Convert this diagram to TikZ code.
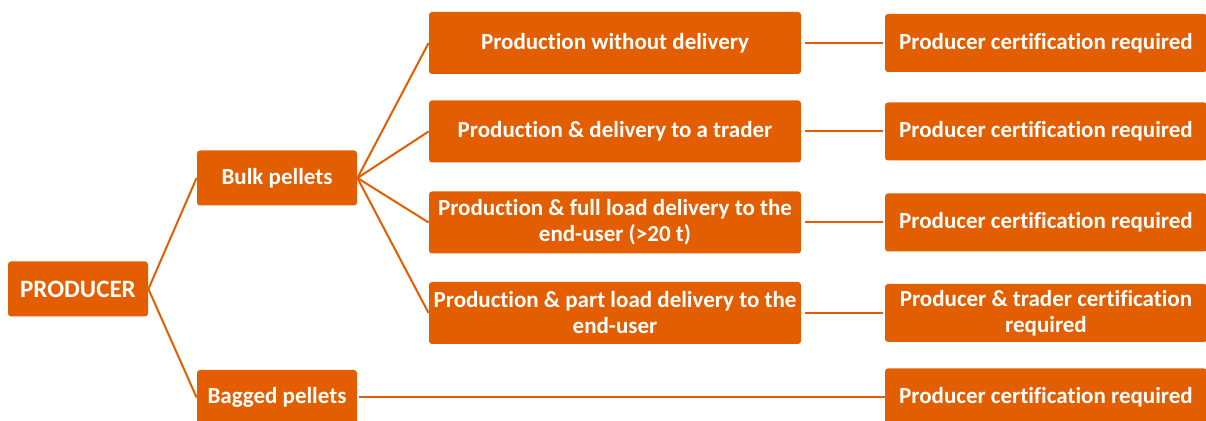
\documentclass[tikz,border=0pt]{standalone}
\usepackage{fontspec}
\setmainfont{Carlito}[Ligatures=NoCommon]
\usetikzlibrary{positioning}
\definecolor{pelletorange}{RGB}{226,94,0}
\tikzset{
  box/.style={fill=pelletorange, rounded corners=1.5pt, text=white, align=center,
    inner sep=0pt, font=\bfseries\fontsize{11.5}{13}\selectfont},
  root/.style={box, minimum width=70pt, minimum height=27.5pt,
    font=\bfseries\fontsize{12.5}{14}\selectfont},
  kind/.style={box, minimum width=80pt, minimum height=27.5pt},
  route/.style={box, minimum width=186pt, minimum height=31pt},
  cert/.style={box, minimum width=161pt, minimum height=29pt},
  link/.style={draw=pelletorange, line width=1pt}
}

\begin{document}
\begin{tikzpicture}[x=0.5pt, y=-0.5pt]
    \useasboundingbox (0,0) rectangle (1206,421);
    \node[root] (producer) at (78,289) {PRODUCER};
    \node[kind] (bulk) at (277,178) {Bulk pellets};
    \node[kind] (bagged) at (277,397.5) {Bagged pellets};
    \node[route] (route1) at (615,43) {Production without delivery};
    \node[route] (route2) at (615,131.5) {Production \& delivery to a trader};
    \node[route] (route3) at (615,222.5) {Production \& full load delivery to the\\end-user (>20 t)};
    \node[route] (route4) at (615,313) {Production \& part load delivery to the\\end-user};
    \node[cert] (cert1) at (1046,43) {Producer certification required};
    \node[cert] (cert2) at (1046,131.5) {Producer certification required};
    \node[cert] (cert3) at (1046,222.5) {Producer certification required};
    \node[cert] (cert4) at (1046,313) {Producer \& trader certification\\required};
    \node[cert] (cert5) at (1046,397.5) {Producer certification required};
    \draw[link] (producer.east) -- (bulk.west);
    \draw[link] (producer.east) -- (bagged.west);
    \foreach \i in {1,...,4} {
      \draw[link] (bulk.east) -- (route\i.west);
      \draw[link, shorten <=2pt, shorten >=1pt] (route\i.east) -- (cert\i.west);
    }
    \draw[link, shorten <=1pt] (bagged.east) -- (cert5.west);
  \end{tikzpicture}
\end{document}
